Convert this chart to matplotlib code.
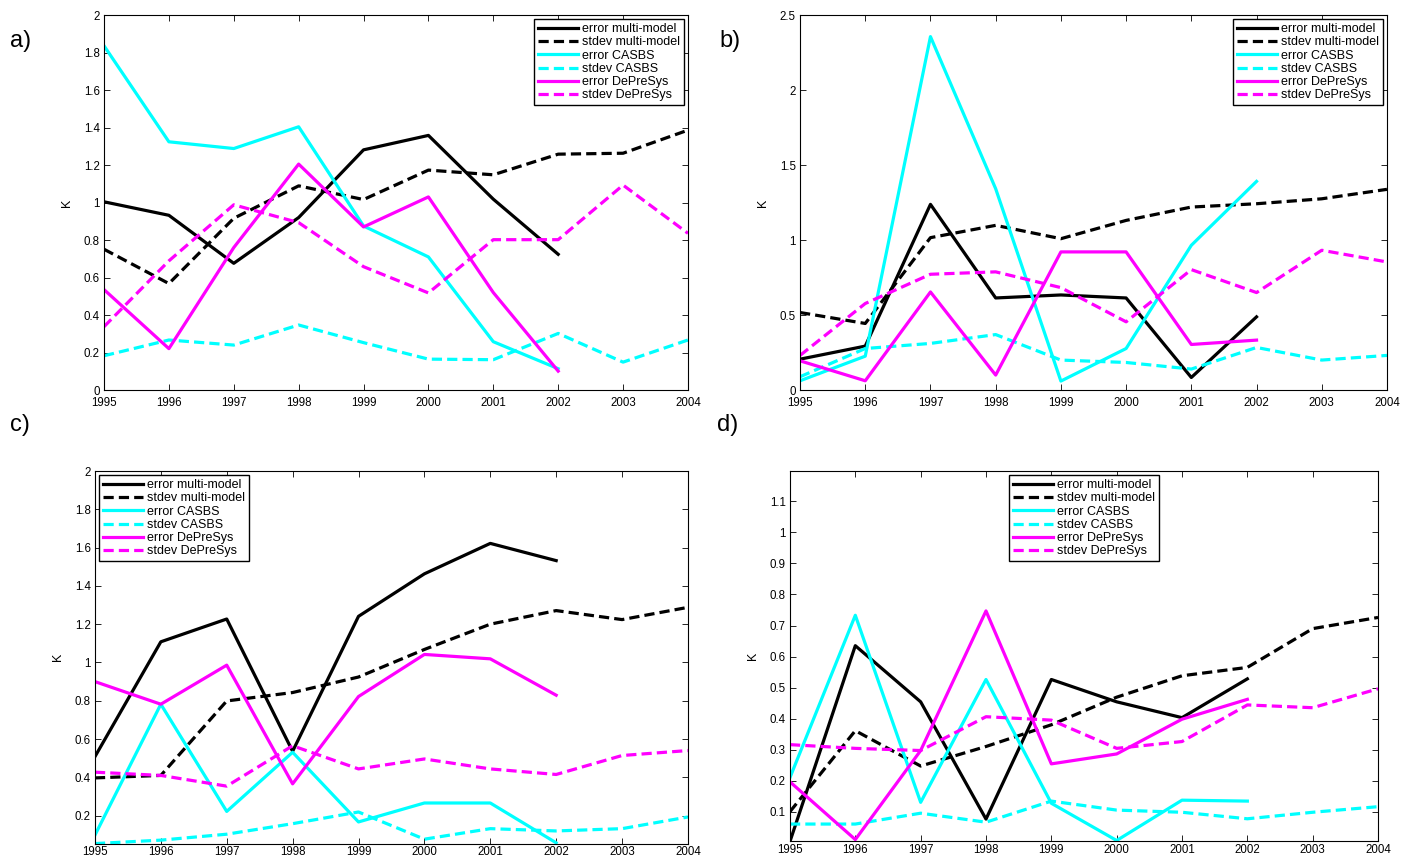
import numpy as np
import matplotlib
matplotlib.use('Agg')
import matplotlib.pyplot as plt
from matplotlib.ticker import FuncFormatter

plt.rcParams['font.family'] = ['Liberation Sans', 'DejaVu Sans']

years = list(range(1995, 2005))
years_err = list(range(1995, 2003))

labels = ['error multi-model', 'stdev multi-model', 'error CASBS',
          'stdev CASBS', 'error DePreSys', 'stdev DePreSys']

# panel a
a_err_mm = [1.004, 0.932, 0.676, 0.92, 1.281, 1.358, 1.018, 0.724]
a_std_mm = [0.751, 0.568, 0.916, 1.089, 1.016, 1.173, 1.148, 1.258, 1.263, 1.386]
a_err_cas = [1.836, 1.324, 1.288, 1.404, 0.875, 0.71, 0.258, 0.114]
a_std_cas = [0.183, 0.267, 0.24, 0.347, 0.253, 0.165, 0.162, 0.302, 0.149, 0.267]
a_err_dps = [0.536, 0.221, 0.76, 1.205, 0.87, 1.03, 0.52, 0.101]
a_std_dps = [0.338, 0.689, 0.988, 0.893, 0.658, 0.518, 0.802, 0.802, 1.093, 0.836]

# panel b
b_err_mm = [0.206, 0.293, 1.238, 0.614, 0.634, 0.614, 0.084, 0.488]
b_std_mm = [0.517, 0.444, 1.016, 1.098, 1.009, 1.131, 1.22, 1.242, 1.275, 1.338]
b_err_cas = [0.062, 0.226, 2.356, 1.342, 0.06, 0.277, 0.965, 1.391]
b_std_cas = [0.089, 0.277, 0.311, 0.37, 0.2, 0.184, 0.14, 0.284, 0.2, 0.231]
b_err_dps = [0.195, 0.062, 0.654, 0.1, 0.921, 0.921, 0.304, 0.333]
b_std_dps = [0.231, 0.577, 0.772, 0.788, 0.683, 0.455, 0.803, 0.65, 0.932, 0.854]

# panel c
c_err_mm = [0.508, 1.108, 1.227, 0.536, 1.241, 1.463, 1.622, 1.532]
c_std_mm = [0.397, 0.41, 0.799, 0.843, 0.924, 1.068, 1.2, 1.271, 1.224, 1.288]
c_err_cas = [0.098, 0.782, 0.222, 0.531, 0.167, 0.266, 0.266, 0.058]
c_std_cas = [0.054, 0.072, 0.103, 0.158, 0.219, 0.077, 0.132, 0.12, 0.132, 0.193]
c_err_dps = [0.9, 0.782, 0.986, 0.366, 0.822, 1.042, 1.019, 0.829]
c_std_dps = [0.427, 0.41, 0.354, 0.565, 0.444, 0.496, 0.444, 0.415, 0.514, 0.54]

# panel d
d_err_mm = [0.004, 0.635, 0.454, 0.076, 0.526, 0.454, 0.403, 0.528]
d_std_mm = [0.1, 0.361, 0.247, 0.31, 0.38, 0.469, 0.538, 0.565, 0.69, 0.726]
d_err_cas = [0.21, 0.733, 0.13, 0.526, 0.127, 0.007, 0.137, 0.134]
d_std_cas = [0.06, 0.06, 0.095, 0.066, 0.134, 0.105, 0.098, 0.077, 0.098, 0.116]
d_err_dps = [0.196, 0.01, 0.297, 0.747, 0.254, 0.286, 0.398, 0.462]
d_std_dps = [0.316, 0.304, 0.297, 0.406, 0.395, 0.304, 0.326, 0.444, 0.435, 0.496]

panels = [
    ('a)', [a_err_mm, a_std_mm, a_err_cas, a_std_cas, a_err_dps, a_std_dps],
     (0, 2), np.arange(0, 2.01, 0.2), 'upper right'),
    ('b)', [b_err_mm, b_std_mm, b_err_cas, b_std_cas, b_err_dps, b_std_dps],
     (0, 2.5), np.arange(0, 2.51, 0.5), 'upper right'),
    ('c)', [c_err_mm, c_std_mm, c_err_cas, c_std_cas, c_err_dps, c_std_dps],
     (0.054, 2), np.arange(0.2, 2.01, 0.2), 'upper left'),
    ('d)', [d_err_mm, d_std_mm, d_err_cas, d_std_cas, d_err_dps, d_std_dps],
     (0.004, 1.198), np.arange(0.1, 1.11, 0.1), 'upper center'),
]

# axes rectangles [left, bottom, width, height] and panel label positions
rects = [[0.0734, 0.548, 0.4121, 0.4346],
         [0.5646, 0.548, 0.4142, 0.4346],
         [0.0670, 0.0225, 0.4185, 0.4317],
         [0.5575, 0.0250, 0.4150, 0.4292]]
tag_pos = [(0.007, 0.953), (0.508, 0.953), (0.007, 0.508), (0.506, 0.508)]
xpads = [5, 5, 2, 2]

colors = ['black', 'black', 'cyan', 'cyan', 'magenta', 'magenta']
styles = ['-', '--', '-', '--', '-', '--']

fig = plt.figure(figsize=(14.17, 8.63), dpi=100)

for (tag, series, ylim, yt, loc), rect, tp, xp in zip(panels, rects, tag_pos, xpads):
    ax = fig.add_axes(rect)
    for s, c, ls, lab in zip(series, colors, styles, labels):
        x = years if len(s) == len(years) else years_err
        line, = ax.plot(x, s, color=c, ls=ls, lw=2.3, label=lab)
        if ls == '--':
            line.set_dashes((3.2, 1.6))
    ax.set_xlim(1995, 2004)
    ax.set_ylim(*ylim)
    ax.set_xticks(years)
    ax.set_yticks(yt)
    ax.yaxis.set_major_formatter(FuncFormatter(lambda v, p: '%g' % round(v, 3)))
    ax.tick_params(direction='in', top=True, right=True, labelsize=8.3,
                   length=4, width=0.6)
    ax.tick_params(axis='x', pad=xp)
    ax.tick_params(axis='y', pad=3)
    for sp in ax.spines.values():
        sp.set_linewidth(0.8)
    ax.set_ylabel('K', fontsize=9, labelpad=8)
    leg = ax.legend(loc=loc, fontsize=9, frameon=True, fancybox=False,
                    edgecolor='black', framealpha=1, handlelength=3.2,
                    labelspacing=0.1, borderpad=0.3, handletextpad=0.3,
                    borderaxespad=0.35)
    leg.get_frame().set_linewidth(1.0)
    fig.text(tp[0], tp[1], tag, fontsize=17, va='center')

fig.savefig('out.png', dpi=100)
